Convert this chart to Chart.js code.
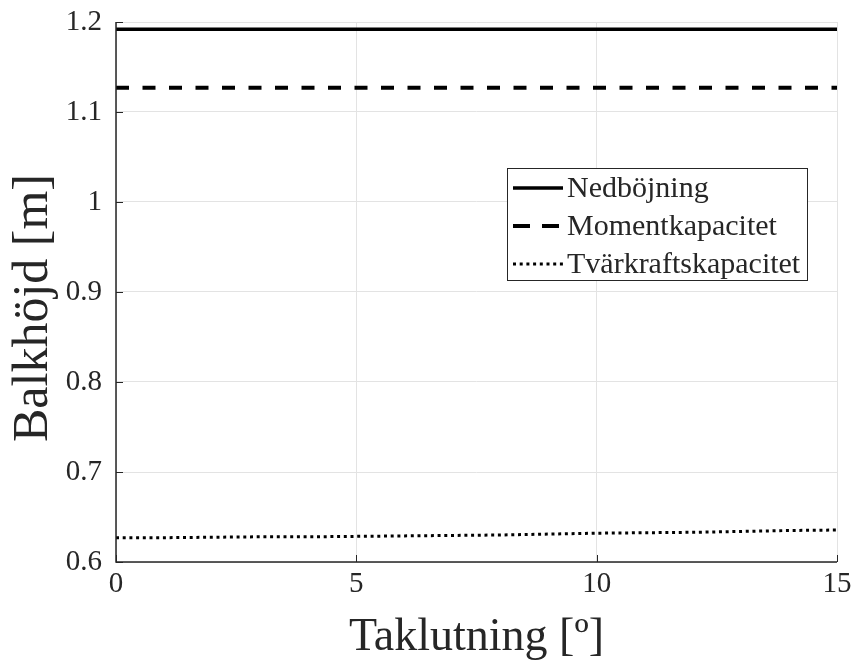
<!DOCTYPE html>
<html>
<head>
<meta charset="utf-8">
<script src="https://cdn.jsdelivr.net/npm/chart.js@4/dist/chart.umd.min.js"></script>
<style>
  html, body { margin: 0; padding: 0; background: #fff; }
  #wrap { width: 856px; height: 668px; }
</style>
</head>
<body>
<div id="wrap"><canvas id="myChart" width="856" height="668"></canvas></div>
<script>
// data
const taklutning = [0, 1, 2, 3, 4, 5, 6, 7, 8, 9, 10, 11, 12, 13, 14, 15];
const nedbojning = [1.192, 1.192, 1.192, 1.192, 1.192, 1.192, 1.192, 1.192, 1.192, 1.192, 1.192, 1.192, 1.192, 1.192, 1.192, 1.192];
const momentkapacitet = [1.127, 1.127, 1.127, 1.127, 1.127, 1.127, 1.127, 1.127, 1.127, 1.127, 1.127, 1.127, 1.127, 1.127, 1.127, 1.127];
const tvarkraftskapacitet = [0.627, 0.627, 0.6275, 0.628, 0.628, 0.6285, 0.629, 0.6295, 0.630, 0.631, 0.632, 0.6325, 0.633, 0.634, 0.635, 0.6355];
const xTicks = [0, 5, 10, 15];
const yTicks = [0.6, 0.7, 0.8, 0.9, 1, 1.1, 1.2];
const yTitle = 'Balkhöjd [m]';

const serif = '"Liberation Serif", "Times New Roman", serif';

function pts(ys) {
    return taklutning.map(function (x, i) { return { x: x, y: ys[i] }; });
}

// MATLAB style ticks pointing into the plot
const innerTicks = {
    id: 'innerTicks',
    afterDraw: function (chart) {
        const ctx = chart.ctx;
        const a = chart.chartArea;
        const xs = chart.scales.x, ys = chart.scales.y;
        ctx.save();
        ctx.strokeStyle = '#262626';
        ctx.lineWidth = 1;
        ctx.beginPath();
        xTicks.forEach(function (v) {
            const px = Math.round(xs.getPixelForValue(v)) + 0.5;
            ctx.moveTo(px, a.bottom); ctx.lineTo(px, a.bottom - 7);
        });
        yTicks.forEach(function (v) {
            const py = Math.round(ys.getPixelForValue(v)) + 0.5;
            ctx.moveTo(a.left, py); ctx.lineTo(a.left + 7, py);
        });
        ctx.stroke();
        // left and bottom axis lines
        ctx.lineWidth = 1.5;
        ctx.beginPath();
        ctx.moveTo(a.left, a.top); ctx.lineTo(a.left, a.bottom); ctx.lineTo(a.right, a.bottom);
        ctx.stroke();

        // y axis title, a bit below the middle like in the original
        ctx.translate(34, (a.top + a.bottom) / 2 + 16);
        ctx.rotate(-Math.PI / 2);
        ctx.font = '50px ' + serif;
        ctx.fillStyle = '#262626';
        ctx.textAlign = 'center';
        ctx.textBaseline = 'middle';
        ctx.fillText(yTitle, 0, 0);
        ctx.restore();
    }
};

// legend box inside the plot
const boxLegend = {
    id: 'boxLegend',
    afterDraw: function (chart) {
        const ctx = chart.ctx;
        const x0 = 507, y0 = 168, w = 300, h = 112;
        ctx.save();
        ctx.fillStyle = '#fff';
        ctx.fillRect(x0, y0, w, h);
        ctx.strokeStyle = '#262626';
        ctx.lineWidth = 1;
        ctx.strokeRect(x0 + 0.5, y0 + 0.5, w, h);
        ctx.font = '30px ' + serif;
        ctx.textBaseline = 'middle';
        chart.data.datasets.forEach(function (ds, i) {
            const cy = y0 + 20 + i * 38;
            ctx.strokeStyle = '#000';
            ctx.lineWidth = ds.borderWidth;
            ctx.setLineDash(i === 1 ? [17, 12] : (ds.borderDash || []));
            ctx.beginPath();
            ctx.moveTo(x0 + 6, cy); ctx.lineTo(x0 + 56, cy);
            ctx.stroke();
            ctx.setLineDash([]);
            ctx.fillStyle = '#262626';
            ctx.fillText(ds.label, x0 + 60, cy + 1);
        });
        ctx.restore();
    }
};

const ctx = document.getElementById('myChart').getContext('2d');
new Chart(ctx, {
    type: 'line',
    data: {
        datasets: [{
            label: 'Nedböjning',
            data: pts(nedbojning),
            borderColor: '#000',
            borderWidth: 3.5,
            pointRadius: 0
        }, {
            label: 'Momentkapacitet',
            data: pts(momentkapacitet),
            borderColor: '#000',
            borderWidth: 4,
            borderDash: [13, 13.5],
            pointRadius: 0
        }, {
            label: 'Tvärkraftskapacitet',
            data: pts(tvarkraftskapacitet),
            borderColor: '#000',
            borderWidth: 3,
            borderDash: [3, 3.7],
            pointRadius: 0
        }]
    },
    options: {
        responsive: false,
        animation: false,
        layout: { padding: { top: 22, right: 19, left: 0, bottom: 0 } },
        plugins: {
            legend: { display: false },
            tooltip: { enabled: false }
        },
        scales: {
            x: {
                type: 'linear',
                min: 0,
                max: 15,
                afterBuildTicks: function (axis) {
                    axis.ticks = xTicks.map(function (v) { return { value: v }; });
                },
                afterFit: function (axis) {
                    axis.height = 106;
                    axis.paddingLeft = 0;
                    axis.paddingRight = 0;
                },
                grid: { color: '#e3e3e3', drawTicks: false, lineWidth: 1 },
                border: { display: false },
                ticks: {
                    color: '#262626',
                    padding: 5,
                    font: { family: serif, size: 29 },
                    maxRotation: 0
                },
                title: {
                    display: true,
                    text: 'Taklutning [º]',
                    color: '#262626',
                    font: { family: serif, size: 46 },
                    padding: { top: 0, bottom: 2 }
                }
            },
            y: {
                type: 'linear',
                min: 0.6,
                max: 1.2,
                afterBuildTicks: function (axis) {
                    axis.ticks = yTicks.map(function (v) { return { value: v }; });
                },
                afterFit: function (axis) {
                    axis.width = 116;
                    axis.paddingTop = 0;
                    axis.paddingBottom = 0;
                },
                grid: { color: '#e3e3e3', drawTicks: false, lineWidth: 1 },
                border: { display: false },
                ticks: {
                    color: '#262626',
                    padding: 14,
                    font: { family: serif, size: 29 },
                    callback: function (v) { return String(Math.round(v * 10) / 10); }
                },
                title: { display: false }
            }
        }
    },
    plugins: [innerTicks, boxLegend]
});
</script>
</body>
</html>
